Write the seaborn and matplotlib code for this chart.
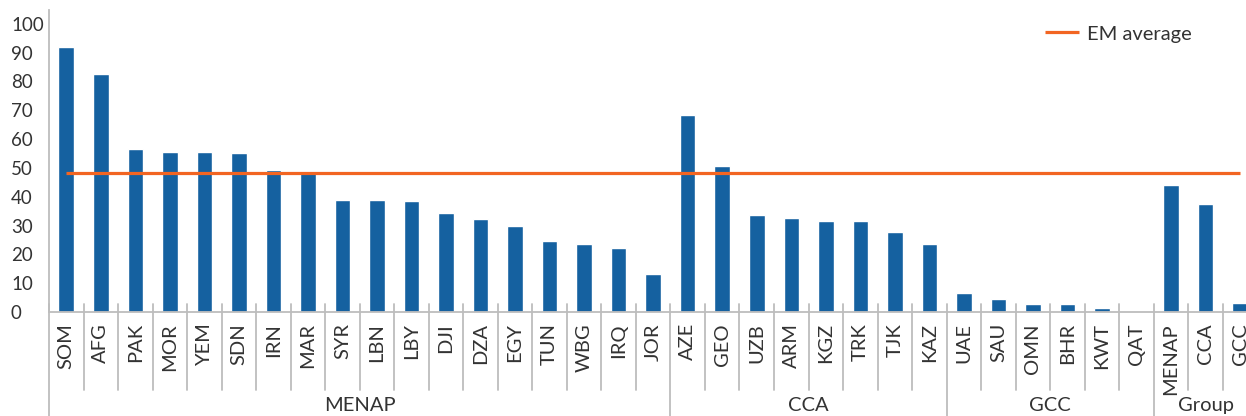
import numpy as np
import pandas as pd
import matplotlib.pyplot as plt
import matplotlib.transforms as mtransforms
import seaborn as sns

# Data
categories = ['SOM', 'AFG', 'PAK', 'MOR', 'YEM', 'SDN', 'IRN', 'MAR', 'SYR', 'LBN',
              'LBY', 'DJI', 'DZA', 'EGY', 'TUN', 'WBG', 'IRQ', 'JOR',
              'AZE', 'GEO', 'UZB', 'ARM', 'KGZ', 'TRK', 'TJK', 'KAZ',
              'UAE', 'SAU', 'OMN', 'BHR', 'KWT', 'QAT',
              'MENAP', 'CCA', 'GCC']
values = [91.9, 82.5, 56.5, 55.5, 55.5, 55.1, 49.2, 48.5, 38.8, 38.8,
          38.4, 34.3, 32.2, 29.8, 24.5, 23.5, 22.1, 13.1,
          68.3, 50.6, 33.6, 32.6, 31.6, 31.6, 27.7, 23.5,
          6.5, 4.4, 2.7, 2.7, 1.3, 0.15,
          44.0, 37.4, 3.0]
group_names = ['MENAP', 'CCA', 'GCC', 'Group']
group_sizes = [18, 8, 6, 3]
em_average = 48.2

bar_color = '#1561A0'
line_color = '#F26522'
grid_gray = '#BDBDBD'
text_color = '#333333'

sns.set_style('white')
plt.rcParams['font.family'] = ['Lato', 'DejaVu Sans']

df = pd.DataFrame({'country': categories, 'value': values})
n = len(categories)

fig = plt.figure(figsize=(12.46, 4.16), dpi=100)
ax = fig.add_axes([49 / 1246, 104 / 416, 1 - 49 / 1246, 302 / 416])

sns.barplot(data=df, x='country', y='value', color=bar_color, width=0.45,
            saturation=1, ax=ax)

# EM average line from first to last category centre
ax.hlines(em_average, 0, n - 1, color=line_color, linewidth=2.3,
          label='EM average', zorder=3)

ax.set_xlim(-0.5, (1246 - 48.8) / 34.53 - 0.5)
ax.set_ylim(0, 104.8)
ax.set_yticks(range(0, 101, 10))
ax.set_xlabel('')
ax.set_ylabel('')

for s in ['top', 'right']:
    ax.spines[s].set_visible(False)
ax.spines['left'].set_color(grid_gray)
ax.spines['bottom'].set_color(grid_gray)
ax.spines['left'].set_linewidth(1.3)
ax.spines['bottom'].set_linewidth(1.3)

ax.tick_params(axis='y', direction='in', length=4.5, width=1, color=grid_gray,
               labelsize=13.5, labelcolor=text_color, pad=27.4)
for lbl in ax.get_yticklabels():
    lbl.set_horizontalalignment('left')
ax.tick_params(axis='x', length=0, labelsize=14.5, labelcolor=text_color,
               pad=8, rotation=90)

# separators between categories and between groups
trans = mtransforms.blended_transform_factory(ax.transData, ax.transAxes)
bounds = np.cumsum([0] + group_sizes)
for i in range(n + 1):
    x = i - 0.5
    bottom = -0.344 if i in bounds else -0.258
    ax.plot([x, x], [0.0265, bottom], color=grid_gray, lw=1.3,
            transform=trans, clip_on=False)

# group names under the category labels
for name, start, size in zip(group_names, bounds[:-1], group_sizes):
    ax.text(start + (size - 1) / 2, -0.328, name, transform=trans,
            ha='center', va='baseline', fontsize=14.5, color=text_color)

ax.legend(loc='center left', bbox_to_anchor=(1045 / 1246, 1 - 34 / 416),
          bbox_transform=fig.transFigure, frameon=False, fontsize=14.5,
          borderpad=0, borderaxespad=0, handlelength=1.7, handletextpad=0.4,
          labelcolor=text_color)

fig.savefig('out.png', dpi=100)
